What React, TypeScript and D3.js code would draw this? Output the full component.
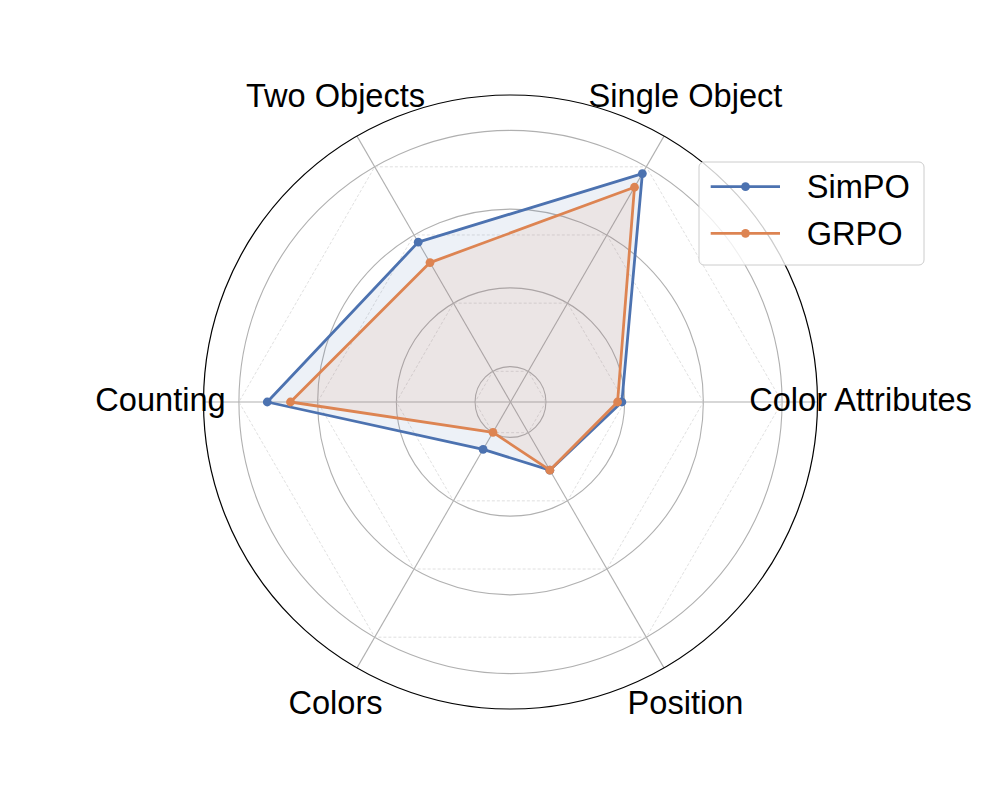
import React from "react";
import * as d3 from "d3";

const width = 997;
const height = 797;
const cx = 510.5;
const cy = 402;
const outerR = 307;

const categories = ["Color Attributes", "Single Object", "Two Objects", "Counting", "Colors", "Position"];
const simpo = [0.393, 0.78, 0.579, 0.728, 0.249, 0.31];
const grpo = [0.382, 0.74, 0.519, 0.669, 0.199, 0.31];
const radialTicks = [0.2, 0.4, 0.6, 0.8];
const radialDomain = [0.11, 0.89];

const series = [
  { name: "SimPO", values: simpo, color: "#4c72b0" },
  { name: "GRPO", values: grpo, color: "#dd8452" },
];

const font = "'Liberation Sans', Arial, Helvetica, sans-serif";

export default function App() {
  const r = d3.scaleLinear().domain(radialDomain).range([0, outerR]);
  // matplotlib-style angles: counter-clockwise from east
  const theta = d3.scaleLinear().domain([0, categories.length]).range([0, 2 * Math.PI]);
  const toD3 = (i: number) => Math.PI / 2 - theta(i);

  const radial = d3
    .lineRadial<number>()
    .angle((_, i) => toD3(i))
    .radius((d) => r(d))
    .curve(d3.curveLinearClosed);

  const hexagon = (v: number) => radial(categories.map(() => v)) as string;

  const pt = (i: number, rad: number) => d3.pointRadial(toD3(i), rad);

  return (
    <svg
      width={width}
      height={height}
      style={{ position: "absolute", left: 0, top: 0, background: "#fff" }}
    >
      <g transform={`translate(${cx},${cy})`}>
        {/* grid circles */}
        {radialTicks.map((t) => (
          <circle key={"c" + t} r={r(t)} fill="none" stroke="#b0b0b0" strokeWidth={1.1} />
        ))}
        {/* dashed hexagons */}
        {radialTicks.map((t) => (
          <path key={"h" + t} d={hexagon(t)} fill="none" stroke="#d8d8d8" strokeWidth={0.8} strokeDasharray="3,2" />
        ))}
        {/* spokes */}
        {categories.map((c, i) => {
          const [x, y] = pt(i, outerR);
          return <line key={"s" + c} x1={0} y1={0} x2={x} y2={y} stroke="#b0b0b0" strokeWidth={1.1} />;
        })}

        {series.map((s) => (
          <g key={s.name}>
            <path d={radial(s.values) as string} fill={s.color} fillOpacity={0.1} stroke="none" />
            <path d={radial(s.values) as string} fill="none" stroke={s.color} strokeWidth={2.8} strokeLinejoin="round" />
            {s.values.map((v, i) => {
              const [x, y] = pt(i, r(v));
              return <circle key={i} cx={x} cy={y} r={4.4} fill={s.color} />;
            })}
          </g>
        ))}

        {/* outer spine */}
        <circle r={outerR} fill="none" stroke="#000" strokeWidth={1.2} />

        {/* category labels */}
        {categories.map((c, i) => {
          const [x, y] = pt(i, 350);
          return (
            <text
              key={"l" + c}
              x={x}
              y={y + 8.5}
              textAnchor="middle"
              fontFamily={font}
              fontSize={32.6}
              fill="#000"
            >
              {c}
            </text>
          );
        })}
      </g>

      {/* legend */}
      <g transform="translate(699,162)">
        <rect
          x={0}
          y={0}
          width={225}
          height={103}
          rx={5}
          fill="#fff"
          fillOpacity={0.8}
          stroke="#cccccc"
          strokeWidth={1}
        />
        {series.map((s, i) => {
          const y = 24.7 + i * 46.6;
          return (
            <g key={"lg" + s.name}>
              <line x1={11.7} x2={81} y1={y} y2={y} stroke={s.color} strokeWidth={2.8} />
              <circle cx={46.5} cy={y} r={4.4} fill={s.color} />
              <text x={107.7} y={y + 11.5} fontFamily={font} fontSize={32.6} fill="#000">
                {s.name}
              </text>
            </g>
          );
        })}
      </g>
    </svg>
  );
}
